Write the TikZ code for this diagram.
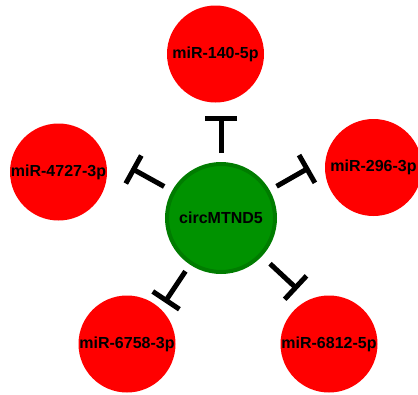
\documentclass[tikz,border=0pt]{standalone}
\usepackage{fontspec}
\setmainfont{Liberation Sans}
\usetikzlibrary{calc}
\definecolor{mired}{RGB}{255,0,0}
\definecolor{circfill}{RGB}{0,146,0}
\definecolor{circborder}{RGB}{0,124,0}
\begin{document}
\begin{tikzpicture}[x=1pt,y=-1pt,
  mirna/.style={circle,fill=mired,minimum size=97pt,inner sep=0pt,
    font=\fontsize{16}{19}\selectfont\bfseries,text=black},
  circrna/.style={circle,fill=circfill,draw=circborder,line width=4pt,
    minimum size=108pt,inner sep=0pt,
    font=\fontsize{16}{19}\selectfont\bfseries,text=black},
  inh/.style={line width=5pt}]
\useasboundingbox (0,0) rectangle (418,394);
\node[circrna] (c) at (221,218) {circMTND5};
\node[mirna] (a) at (215.5,54) {miR-140-5p};
\node[mirna] (b) at (373.5,167.5) {miR-296-3p};
\node[mirna] (d) at (58.5,172) {miR-4727-3p};
\node[mirna] (e) at (127,344) {miR-6758-3p};
\node[mirna] (f) at (329,344) {miR-6812-5p};
\foreach \t/\ang/\st in {a/-90/65, b/-29.7/64, d/-151/65, e/123.7/64, f/43/67}{
  \coordinate (s\t) at ($(c)+(\ang:\st)$);
  \coordinate (e\t) at ($(c)+(\ang:\st+35)$);
  \draw[inh] (s\t) -- (e\t);
  \draw[inh] ($(e\t)+(\ang+90:16)$) -- ($(e\t)+(\ang-90:16)$);
}
\end{tikzpicture}
\end{document}
